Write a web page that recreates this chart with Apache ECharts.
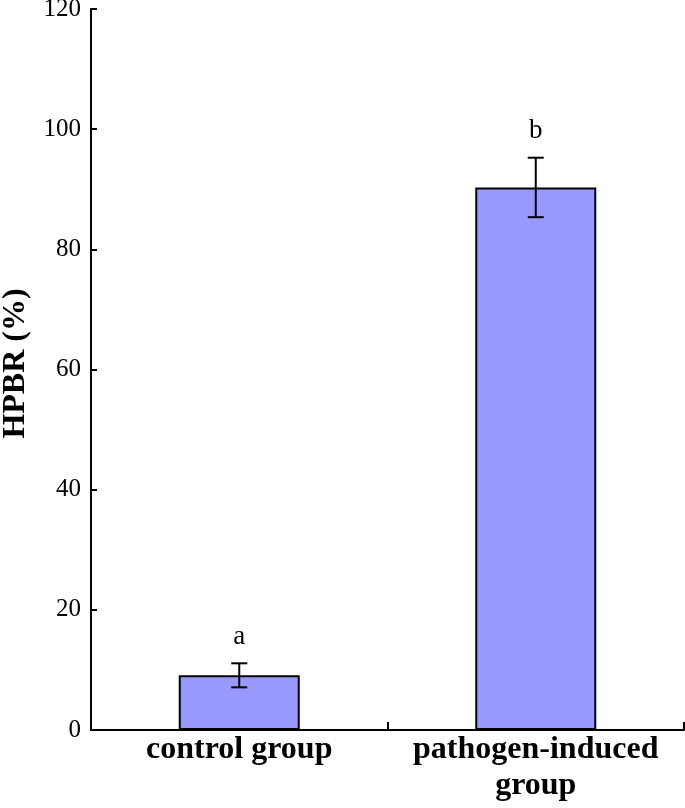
<!DOCTYPE html>
<html>
<head>
<meta charset="utf-8">
<script src="https://cdn.jsdelivr.net/npm/echarts@6/dist/echarts.min.js"></script>
<style>html,body{margin:0;padding:0;background:#fff}#c{width:685px;height:808px}</style>
</head>
<body>
<div id="c"></div>
<script>
var categories = ['control group', 'pathogen-induced\ngroup'];
var means = [9.1, 90.3];
var errors = [2.0, 4.95];
var letters = ['a', 'b'];
var yTicks = {min: 0, max: 120, interval: 20};

var chart = echarts.init(document.getElementById('c'));
var errData = means.map(function (m, i) { return [i, m, errors[i]]; });
chart.setOption({
  animation: false,
  backgroundColor: '#fff',
  grid: {left: 91, right: 1, top: 9, bottom: 78, containLabel: false, outerBoundsMode: 'none'},
  xAxis: {
    type: 'category',
    data: categories,
    boundaryGap: true,
    axisLine: {lineStyle: {color: '#000', width: 2}},
    axisTick: {show: true, inside: true, length: 8, interval: 0, lineStyle: {color: '#000', width: 2}},
    axisLabel: {
      color: '#000', fontFamily: 'Liberation Serif', fontWeight: 'bold',
      fontSize: 32, lineHeight: 36, margin: 2, interval: 0
    }
  },
  yAxis: {
    type: 'value',
    min: yTicks.min, max: yTicks.max, interval: yTicks.interval,
    name: 'HPBR (%)',
    nameLocation: 'middle',
    nameGap: 59,
    nameTextStyle: {color: '#000', fontFamily: 'Liberation Serif', fontWeight: 'bold', fontSize: 32, padding: [0, 0, 0, 12]},
    axisLine: {show: true, lineStyle: {color: '#000', width: 2}},
    axisTick: {show: true, inside: true, length: 6, lineStyle: {color: '#000', width: 2}},
    splitLine: {show: false},
    axisLabel: {color: '#000', fontFamily: 'Liberation Serif', fontSize: 25, margin: 10}
  },
  series: [
    {
      type: 'bar',
      data: means,
      barWidth: 121,
      itemStyle: {color: '#9999ff', borderColor: '#000', borderWidth: 2}
    },
    {
      type: 'custom',
      data: errData,
      z: 10,
      renderItem: function (params, api) {
        var i = api.value(0), m = api.value(1), e = api.value(2);
        var top = api.coord([i, m + e]);
        var bot = api.coord([i, m - e]);
        var x = top[0];
        var cap = 8;
        var style = {stroke: '#000', lineWidth: 2};
        return {
          type: 'group',
          children: [
            {type: 'line', shape: {x1: x, y1: top[1], x2: x, y2: bot[1]}, style: style},
            {type: 'line', shape: {x1: x - cap, y1: top[1], x2: x + cap, y2: top[1]}, style: style},
            {type: 'line', shape: {x1: x - cap, y1: bot[1], x2: x + cap, y2: bot[1]}, style: style},
            {type: 'text', style: {
              text: letters[params.dataIndex], x: x, y: top[1] - 13,
              textAlign: 'center', textVerticalAlign: 'bottom',
              font: '27px "Liberation Serif"', fill: '#000'
            }}
          ]
        };
      }
    }
  ]
});
</script>
</body>
</html>
